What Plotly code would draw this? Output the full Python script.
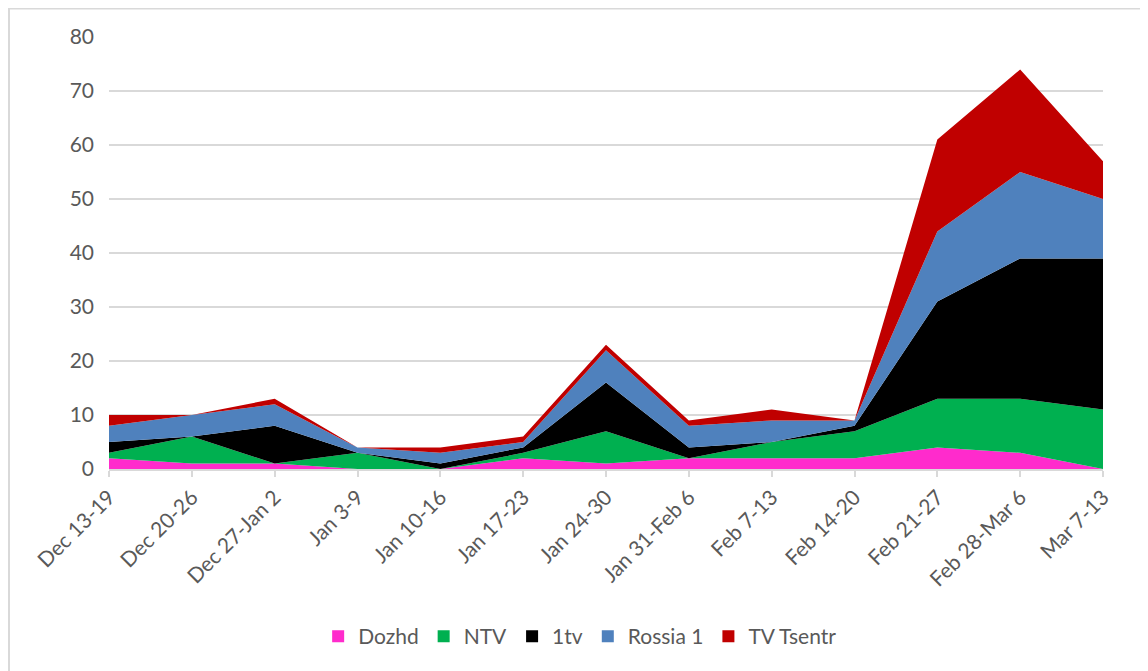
import plotly.graph_objects as go

weeks = ["Dec 13-19", "Dec 20-26", "Dec 27-Jan 2", "Jan 3-9", "Jan 10-16", "Jan 17-23",
         "Jan 24-30", "Jan 31-Feb 6", "Feb 7-13", "Feb 14-20", "Feb 21-27",
         "Feb 28-Mar 6", "Mar 7-13"]
dozhd = [2, 1, 1, 0, 0, 2, 1, 2, 2, 2, 4, 3, 0]
ntv = [1, 5, 0, 3, 0, 1, 6, 0, 3, 5, 9, 10, 11]
tv1 = [2, 0, 7, 0, 1, 1, 9, 2, 0, 1, 18, 26, 28]
rossia1 = [3, 4, 4, 1, 2, 1, 6, 4, 4, 1, 13, 16, 11]
tv_tsentr = [2, 0, 1, 0, 1, 1, 1, 1, 2, 0, 17, 19, 7]

series = [
    ("Dozhd", dozhd, "#FF2BCC"),
    ("NTV", ntv, "#00B050"),
    ("1tv", tv1, "#000000"),
    ("Rossia 1", rossia1, "#4F81BD"),
    ("TV Tsentr", tv_tsentr, "#C00000"),
]

fig = go.Figure()
for name, vals, color in series:
    fig.add_trace(go.Scatter(
        x=weeks, y=vals, name=name, stackgroup="one", mode="none",
        fillcolor=color, line=dict(width=0), showlegend=False,
    ))
# legend entries with square swatches
for name, vals, color in series:
    fig.add_trace(go.Scatter(
        x=[None], y=[None], name=name, mode="markers",
        marker=dict(symbol="square", size=14, color=color), showlegend=True,
    ))

font_family = "Lato, Carlito, Calibri, sans-serif"
fig.update_layout(
    width=1140, height=663,
    margin=dict(l=101, r=45, t=29, b=202),
    paper_bgcolor="white", plot_bgcolor="white",
    font=dict(family=font_family, size=20, color="#595959"),
    showlegend=True,
    legend=dict(orientation="h", x=0.474, xanchor="center", y=-0.388, yanchor="middle",
                font=dict(size=21, color="#595959"), itemwidth=30, traceorder="normal",
                itemsizing="constant"),
    xaxis=dict(
        type="category", range=[0, 12], tickangle=-45,
        showgrid=False, showline=True, linecolor="#D9D9D9", linewidth=1.5,
        ticks="outside", ticklen=6, tickcolor="#D9D9D9", tickwidth=1.5,
        tickfont=dict(size=21, color="#595959"),
    ),
    yaxis=dict(
        range=[0, 80], tickvals=[0, 10, 20, 30, 40, 50, 60, 70, 80],
        showgrid=True, gridcolor="#D9D9D9", gridwidth=1.5, zeroline=False,
        showline=False, ticks="", ticklabelstandoff=14,
        tickfont=dict(size=21, color="#595959"),
    ),
    shapes=[dict(type="rect", xref="paper", yref="paper",
                 x0=-0.1006, y0=-0.5, x1=1.1, y1=1.0660,
                 line=dict(color="#D9D9D9", width=2), layer="below")],
)

fig.write_html("out.html")
